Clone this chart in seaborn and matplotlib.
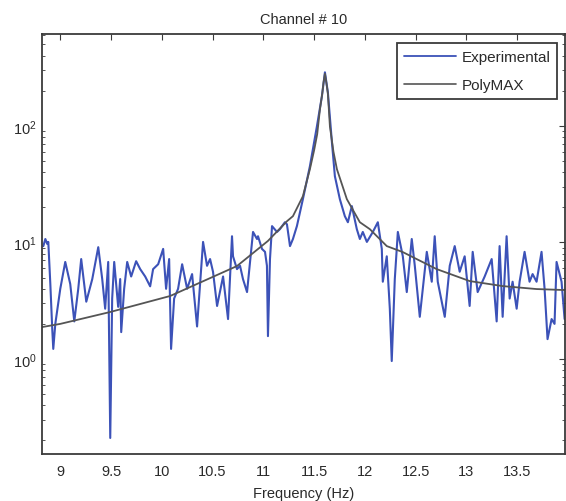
import numpy as np
import pandas as pd
import seaborn as sns
import matplotlib
matplotlib.use("Agg")
import matplotlib.pyplot as plt
from matplotlib.lines import Line2D

# Measured FRF magnitude (Experimental) for channel 10
exp_freq = [8.833, 8.853, 8.872, 8.882, 8.902, 8.921, 8.931, 8.951, 9.000, 9.049,
            9.098, 9.138, 9.177, 9.206, 9.256, 9.315, 9.374, 9.413, 9.442, 9.472,
            9.492, 9.511, 9.531, 9.570, 9.590, 9.600, 9.629, 9.659, 9.698, 9.747,
            9.787, 9.836, 9.885, 9.914, 9.964, 10.013, 10.042, 10.072, 10.091, 10.121,
            10.160, 10.200, 10.249, 10.298, 10.347, 10.406, 10.445, 10.475, 10.504, 10.544,
            10.603, 10.652, 10.691, 10.701, 10.740, 10.770, 10.799, 10.839, 10.888, 10.898,
            10.937, 10.947, 10.986, 11.016, 11.035, 11.045, 11.065, 11.085, 11.134, 11.163,
            11.212, 11.232, 11.262, 11.291, 11.330, 11.389, 11.458, 11.527, 11.576, 11.606,
            11.635, 11.675, 11.704, 11.753, 11.802, 11.832, 11.871, 11.920, 11.950, 11.979,
            12.019, 12.078, 12.127, 12.166, 12.176, 12.215, 12.245, 12.264, 12.294, 12.324,
            12.373, 12.412, 12.461, 12.491, 12.540, 12.609, 12.658, 12.687, 12.717, 12.786,
            12.835, 12.884, 12.933, 12.982, 13.031, 13.061, 13.110, 13.179, 13.248, 13.297,
            13.326, 13.356, 13.395, 13.425, 13.454, 13.494, 13.523, 13.572, 13.621, 13.651,
            13.690, 13.739, 13.769, 13.798, 13.838, 13.867, 13.887, 13.936, 13.966]
exp_mag = [9.3, 10.7, 9.7, 10.1, 4.4, 1.8, 1.22, 2.0, 4.0, 6.8,
           4.4, 2.1, 4.0, 7.2, 3.1, 4.85, 9.1, 4.85, 2.7, 6.8,
           0.21, 3.3, 6.8, 2.8, 4.85, 1.7, 4.0, 6.8, 5.1, 6.9,
           5.9, 5.1, 4.2, 5.9, 6.5, 8.8, 4.0, 7.2, 1.22, 3.3,
           4.0, 6.5, 4.0, 5.35, 1.9, 10.1, 6.3, 7.2, 5.6, 2.85,
           5.1, 2.2, 11.3, 7.6, 5.9, 6.3, 4.85, 3.75, 10.1, 12.3,
           10.7, 11.3, 8.8, 8.3, 6.3, 1.57, 7.2, 13.8, 12.3, 13.0,
           14.9, 14.3, 9.3, 10.7, 13.8, 23.5, 45.0, 99.0, 179.0, 288.0,
           194.0, 72.0, 37.0, 23.5, 16.8, 14.9, 20.5, 13.0, 10.7, 12.3,
           10.1, 12.3, 14.9, 8.8, 4.6, 7.6, 2.7, 0.96, 4.85, 12.3,
           7.6, 3.75, 10.7, 6.3, 2.3, 8.3, 4.6, 11.3, 4.6, 2.3,
           6.3, 9.3, 5.6, 7.6, 2.85, 8.3, 3.75, 5.1, 7.2, 2.1,
           9.3, 2.3, 11.3, 3.3, 4.6, 2.7, 4.6, 8.3, 4.6, 5.35,
           4.6, 8.3, 4.0, 1.48, 2.2, 2.0, 6.8, 4.6, 2.2]

# Synthesised FRF from the PolyMAX modal fit
fit_freq = [8.823, 9.000, 9.492, 10.082, 10.740, 11.045, 11.232, 11.291, 11.389, 11.458,
            11.500, 11.530, 11.557, 11.580, 11.592, 11.606, 11.620, 11.635, 11.655, 11.690,
            11.724, 11.822, 11.950, 12.048, 12.215, 12.373, 12.510, 12.707, 13.031, 13.356,
            13.690, 13.975]
fit_mag = [1.88, 2.0, 2.53, 3.47, 6.27, 10.3, 15.2, 16.8, 24.9, 42.5,
           62.0, 85.0, 139.0, 190.0, 235.0, 280.0, 235.0, 190.0, 99.0, 60.0,
           42.5, 23.5, 14.9, 13.0, 9.3, 8.26, 7.19, 5.9, 4.66, 4.22,
           3.98, 3.9]

x_ticks = [9, 9.5, 10, 10.5, 11, 11.5, 12, 12.5, 13, 13.5]
x_tick_labels = ["9", "9.5", "10", "10.5", "11", "11.5", "12", "12.5", "13", "13.5"]

exp_df = pd.DataFrame({"freq": exp_freq, "mag": exp_mag})
fit_df = pd.DataFrame({"freq": fit_freq, "mag": fit_mag})

sns.set_theme(style="white")
plt.rcParams["font.family"] = ["Liberation Sans", "DejaVu Sans"]
text_color = "#2a2a2a"
edge_color = "#3a3a3a"
blue = "#3c52b8"
gray = "#555555"

fig = plt.figure(figsize=(5.66, 5.02), dpi=100)
ax = fig.add_axes([42 / 566, 1 - 455 / 502, 523 / 566, 420 / 502])

sns.lineplot(data=exp_df, x="freq", y="mag", ax=ax, color=blue, linewidth=1.5,
             estimator=None, sort=False)
sns.lineplot(data=fit_df, x="freq", y="mag", ax=ax, color=gray, linewidth=1.3,
             estimator=None, sort=False)

ax.set_yscale("log")
ax.set_xlim(8.82, 13.97)
ax.set_ylim(0.153, 614)
ax.set_xticks(x_ticks)
ax.set_xticklabels(x_tick_labels)

for side in ["left", "right", "top", "bottom"]:
    ax.spines[side].set_color(edge_color)
    ax.spines[side].set_linewidth(1.3)
    ax.spines[side].set_visible(True)

ax.tick_params(axis="both", which="both", direction="in", top=True, right=True,
               color=edge_color, labelcolor=text_color, labelsize=10.5)
ax.tick_params(axis="x", which="major", length=4, width=0.8, pad=7)
ax.tick_params(axis="y", which="major", length=4, width=0.8, pad=4)
ax.tick_params(axis="y", which="minor", length=2.5, width=0.6, left=True, right=True)
ax.tick_params(axis="x", which="minor", bottom=False, top=False)

ax.set_title("Channel # 10", fontsize=10.5, color=text_color, pad=8)
ax.set_xlabel("Frequency (Hz)", fontsize=10.5, color=text_color, labelpad=6)
ax.set_ylabel("")

handles = [Line2D([0], [0], color=blue, linewidth=1.3),
           Line2D([0], [0], color=gray, linewidth=1.2)]
leg = ax.legend(handles, ["Experimental", "PolyMAX"], loc="upper right",
                bbox_to_anchor=(557 / 566, 1 - 44 / 502), bbox_transform=fig.transFigure,
                fontsize=11, frameon=True, fancybox=False, framealpha=1,
                handlelength=3.4, handletextpad=0.35, labelspacing=0.95,
                borderpad=0.45, borderaxespad=0)
leg.get_frame().set_edgecolor(edge_color)
leg.get_frame().set_linewidth(1.3)
for t in leg.get_texts():
    t.set_color(text_color)

fig.savefig("out.png", dpi=100, facecolor="white")
